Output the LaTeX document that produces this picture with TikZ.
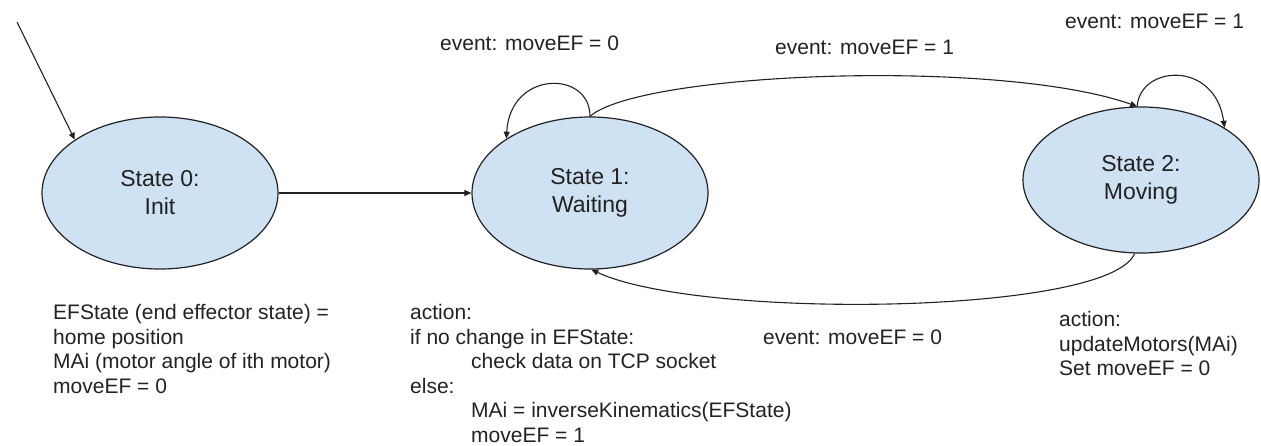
\documentclass[tikz,border=0pt]{standalone}
\usepackage{fontspec}
\setmainfont{Liberation Sans}
\usetikzlibrary{shapes.geometric,arrows.meta}
\definecolor{statefill}{HTML}{CFE2F3}
\definecolor{ink}{HTML}{222222}
\tikzset{
  state/.style={ellipse, draw=ink, line width=1.2pt, fill=statefill,
    minimum width=236pt, minimum height=152pt, inner sep=0pt,
    align=center, font=\fontsize{23}{28}\selectfont, text=ink},
  link/.style={draw=ink, line width=1.1pt, -{Triangle[length=7pt,width=6pt]}},
  lbl/.style={anchor=west, inner sep=0pt, font=\fontsize{21}{24.6}\selectfont, text=ink},
  notes/.style={anchor=north west, inner sep=0pt, align=left,
    font=\fontsize{21}{24.6}\selectfont, text=ink}
}
\begin{document}
\begin{tikzpicture}[x=1pt,y=-1pt]
\useasboundingbox (0,0) rectangle (1261,446);

% states
\node[state] (s0) at (160,193) {State 0:\\Init};
\node[state] (s1) at (590,193) {State 1:\\Waiting};
\node[state, minimum height=146pt] (s2) at (1141,180) {State 2:\\Moving};

% entry arrow
\coordinate (start) at (17,22);
\draw[link] (start) -- (s0.148);

% transitions
\draw[link] (s0.east) -- (s1.west);
\draw[link] (s1.90) .. controls (590,70) and (510,70) .. (s1.147);
\draw[link] (s1.90) .. controls (640,72) and (1000,58) .. (s2.93);
\draw[link] (s2.93) .. controls (1140,65) and (1215,60) .. (s2.32);
\draw[link] (s2.265) .. controls (1110,315) and (700,320) .. (s1.271);

% transition labels
\node[lbl] (l11) at (440,43) {event: moveEF = 0};
\node[lbl] (l12) at (775,47) {event: moveEF = 1};
\node[lbl] (l22) at (1065,21) {event: moveEF = 1};
\node[lbl] (l21) at (763,337) {event: moveEF = 0};

% state descriptions
\node[notes] (n0) at (53,304) {EFState (end effector state) =\\home position\\MAi (motor angle of ith motor)\\moveEF = 0};
\node[notes] (n1) at (410,304) {action:\\if no change in EFState:\\\hspace*{61pt}check data on TCP socket\\else:\\\hspace*{61pt}MAi = inverseKinematics(EFState)\\\hspace*{61pt}moveEF = 1};
\node[notes] (n2) at (1059,311) {action:\\updateMotors(MAi)\\Set moveEF = 0};
\end{tikzpicture}
\end{document}
